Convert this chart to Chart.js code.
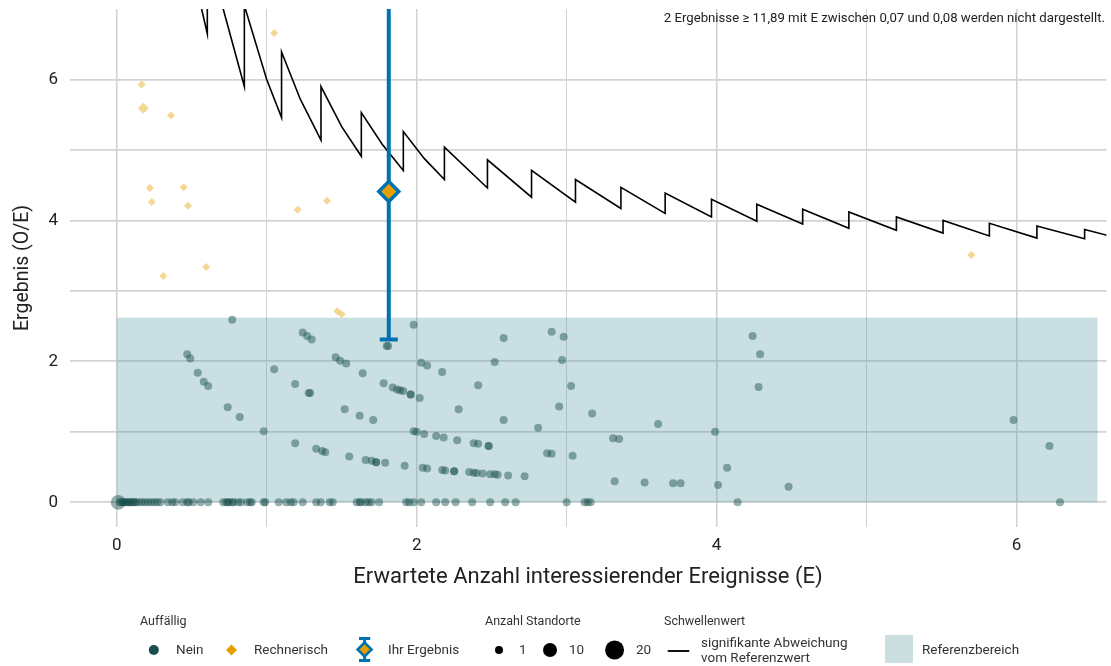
<!DOCTYPE html>
<html>
<head>
<meta charset="utf-8">
<script src="https://cdn.jsdelivr.net/npm/chart.js@4.4.0/dist/chart.umd.min.js"></script>
<style>
  html, body { margin: 0; padding: 0; background: #fff; }
  #wrap { position: relative; width: 1111px; height: 666px; font-family: Roboto, 'Noto Sans', sans-serif; color: #333; }
  #chart { position: absolute; left: 0; top: 0; }
  #legendSvg { position: absolute; left: 0; top: 0; pointer-events: none; }
  .t { position: absolute; white-space: nowrap; line-height: 1; }
  .ttl { font-size: 12.5px; color: #333; }
  .lab { font-size: 13.5px; color: #333; }
  #note { position: absolute; right: 6px; top: 11px; font-size: 13.2px; color: #222; white-space: nowrap; line-height: 1; }
</style>
</head>
<body>
<div id="wrap">
  <canvas id="chart" width="1111" height="666"></canvas>
  <div id="note">2 Ergebnisse ≥ 11,89 mit E zwischen 0,07 und 0,08 werden nicht dargestellt.</div>

  <svg id="legendSvg" width="1111" height="666">
    <circle cx="153.8" cy="650" r="5" fill="#164e4c"/>
    <polygon points="226,650 231.5,644.5 237,650 231.5,655.5" fill="#e69f00"/>
    <line x1="364.6" y1="638" x2="364.6" y2="661" stroke="#0072b2" stroke-width="3"/>
    <line x1="359" y1="638.5" x2="370.2" y2="638.5" stroke="#0072b2" stroke-width="3"/>
    <line x1="359" y1="660.5" x2="370.2" y2="660.5" stroke="#0072b2" stroke-width="3"/>
    <polygon points="357.6,649.5 364.6,642.5 371.6,649.5 364.6,656.5" fill="#e69f00" stroke="#0072b2" stroke-width="2.5"/>
    <circle cx="499" cy="650" r="4" fill="#000"/>
    <circle cx="550" cy="650" r="7" fill="#000"/>
    <circle cx="614.6" cy="650" r="9.5" fill="#000"/>
    <line x1="667.7" y1="651" x2="689.3" y2="651" stroke="#111" stroke-width="2"/>
    <rect x="885" y="635" width="28" height="28" fill="#cbdfe1"/>
  </svg>

  <div class="t ttl" style="left:140px;top:615px;">Auffällig</div>
  <div class="t lab" style="left:176px;top:643px;">Nein</div>
  <div class="t lab" style="left:254px;top:643px;">Rechnerisch</div>
  <div class="t lab" style="left:388px;top:643px;">Ihr Ergebnis</div>

  <div class="t ttl" style="left:485px;top:615px;">Anzahl Standorte</div>
  <div class="t lab" style="left:519px;top:643px;">1</div>
  <div class="t lab" style="left:569px;top:643px;">10</div>
  <div class="t lab" style="left:636px;top:643px;">20</div>

  <div class="t ttl" style="left:664px;top:615px;">Schwellenwert</div>
  <div class="t lab" style="left:701px;top:636px;">signifikante Abweichung</div>
  <div class="t lab" style="left:701px;top:651px;">vom Referenzwert</div>

  <div class="t lab" style="left:922px;top:643px;">Referenzbereich</div>
</div>

<script>
// Funnel plot: O/E gegen erwartete Anzahl E

// Auffaellig: Nein (E, O/E, Anzahl Standorte)
const neinE = [
  0.01, 0.02, 0.03, 0.04, 0.05, 0.06, 0.07, 0.08, 0.09, 0.10, 0.11, 0.12, 0.13, 0.15, 0.17, 0.19, 0.21, 0.23, 0.25, 0.27, 0.29,
  0.34, 0.37, 0.39, 0.44, 0.47, 0.48, 0.51, 0.56, 0.61,
  0.71, 0.73, 0.74, 0.75, 0.77, 0.78, 0.81, 0.83, 0.87, 0.89, 0.90,
  0.98, 0.99, 1.08, 1.13, 1.16, 1.18, 1.24,
  1.33, 1.36, 1.42, 1.44, 1.60, 1.62, 1.63, 1.66, 1.68, 1.70, 1.75,
  1.93, 1.95, 1.98, 2.03, 2.13, 2.19, 2.26, 2.37, 2.49, 2.59, 2.66, 3.00, 3.12, 3.14, 3.16, 4.14, 6.29,
  0.77, 0.47, 0.49, 0.54, 0.58, 0.61, 0.74, 0.82, 0.98, 1.05, 1.19, 1.19, 1.24, 1.27, 1.30, 1.28, 1.29,
  1.33, 1.37, 1.39, 1.46, 1.49, 1.53, 1.52, 1.55, 1.62, 1.64, 1.66, 1.70, 1.71, 1.73, 1.73, 1.78, 1.79,
  1.80, 1.81, 1.84, 1.87, 1.89, 1.91, 1.92, 1.96, 1.96, 1.98, 1.98, 2.00, 2.02, 2.03, 2.04, 2.05, 2.07,
  2.07, 2.13, 2.17, 2.17, 2.18, 2.19, 2.25, 2.25, 2.27, 2.28, 2.35, 2.38, 2.38, 2.40, 2.41, 2.41, 2.44,
  2.48, 2.48, 2.49, 2.52, 2.52, 2.54, 2.58, 2.58, 2.61, 2.72, 2.81, 2.87, 2.90, 2.90, 2.95, 2.97, 2.98,
  3.03, 3.04, 3.17, 3.31, 3.32, 3.35, 3.52, 3.61, 3.71, 3.76, 3.99, 4.01, 4.07, 4.24, 4.28, 4.29, 4.48,
  5.98, 6.22
];
const neinOE = [
  0, 0, 0, 0, 0, 0, 0, 0, 0, 0, 0, 0, 0, 0, 0, 0, 0, 0, 0, 0, 0,
  0, 0, 0, 0, 0, 0, 0, 0, 0,
  0, 0, 0, 0, 0, 0, 0, 0, 0, 0, 0,
  0, 0, 0, 0, 0, 0, 0,
  0, 0, 0, 0, 0, 0, 0, 0, 0, 0, 0,
  0, 0, 0, 0, 0, 0, 0, 0, 0, 0, 0, 0, 0, 0, 0, 0, 0,
  2.59, 2.10, 2.04, 1.84, 1.71, 1.65, 1.35, 1.21, 1.01, 1.89, 1.68, 0.84, 2.41, 2.36, 2.31, 1.55, 1.55,
  0.76, 0.73, 0.71, 2.06, 2.01, 1.97, 1.32, 0.65, 1.23, 1.83, 0.60, 0.59, 1.17, 0.57, 0.57, 1.69, 0.56,
  2.22, 2.22, 1.63, 1.60, 1.59, 1.58, 0.52, 1.53, 1.53, 2.52, 1.01, 1.00, 1.48, 1.98, 0.49, 0.97, 1.94,
  0.48, 0.94, 1.85, 0.46, 0.92, 0.45, 0.44, 0.44, 0.88, 1.32, 0.43, 0.42, 0.84, 0.415, 0.83, 1.66, 0.41,
  0.80, 0.80, 0.40, 0.40, 1.99, 0.39, 2.33, 1.17, 0.38, 0.37, 1.06, 0.695, 0.69, 2.42, 1.36, 2.02, 2.35,
  1.65, 0.66, 1.26, 0.91, 0.30, 0.90, 0.28, 1.11, 0.27, 0.27, 1.00, 0.245, 0.49, 2.36, 1.635, 2.10, 0.22,
  1.17, 0.80
];
const neinN = neinE.map((e, i) => i === 0 ? 10 : 1);

// Auffaellig: Rechnerisch
const rechE  = [1.05, 0.166, 0.177, 0.362, 0.221, 0.446, 0.233, 0.475, 1.207, 1.402, 0.310, 0.597, 1.471, 1.500, 5.698];
const rechOE = [6.66, 5.93, 5.59, 5.49, 4.46, 4.47, 4.26, 4.21, 4.15, 4.28, 3.21, 3.34, 2.71, 2.67, 3.51];
const rechN  = [1, 1, 2, 1, 1, 1, 1, 1, 1, 1, 1, 1, 1, 1, 1];

// Ihr Ergebnis mit Vertrauensbereich
const ihrE = 1.814;
const ihrOE = 4.41;
const ihrLower = 2.31;
const ihrUpper = 7.6;
const capHalf = 0.06;

// Schwellenwert (Kontrollgrenze), Eckpunkte
const thrE  = [0.566, 0.604, 0.604, 0.710, 0.851, 0.851, 1.000, 1.099, 1.099, 1.224, 1.362, 1.362, 1.500, 1.631, 1.631, 1.770,
               1.911, 1.911, 2.050, 2.185, 2.185, 2.472, 2.472, 2.766, 2.766, 3.059, 3.059, 3.362, 3.362, 3.657, 3.657,
               3.966, 3.966, 4.268, 4.268, 4.574, 4.574, 4.882, 4.882, 5.199, 5.199, 5.510, 5.510, 5.819, 5.819,
               6.136, 6.136, 6.454, 6.454, 6.604];
const thrOE = [7.00, 6.65, 8.30, 7.00, 5.90, 7.05, 6.00, 5.46, 6.39, 5.72, 5.14, 5.90, 5.33, 4.91, 5.53, 5.08,
               4.71, 5.26, 4.88, 4.58, 5.04, 4.46, 4.86, 4.33, 4.71, 4.26, 4.58, 4.17, 4.47, 4.10, 4.39,
               4.05, 4.30, 3.99, 4.23, 3.95, 4.16, 3.89, 4.12, 3.86, 4.05, 3.82, 4.00, 3.78, 3.96,
               3.75, 3.92, 3.74, 3.87, 3.79];

// Referenzbereich
const refE  = [0, 6.54];
const refOE = [0, 2.62];

// Achsen
const xGrid = [0, 1, 2, 3, 4, 5, 6];
const yGrid = [0, 1, 2, 3, 4, 5, 6];

const TEAL = '#164e4c';
const ORANGE = '#e69f00';
const BLUE = '#0072b2';

function sizeToRadius(n){ return Math.sqrt(16 + 4.4 * (n - 1)); }

// no label overhang padding: chart area set only by layout.padding
function noPad(s){ s.paddingTop = 0; s.paddingBottom = 0; s.paddingLeft = 0; s.paddingRight = 0; }

const refAreaPlugin = {
  id: 'refArea',
  beforeDatasetsDraw(chart){
    const { ctx, scales: { x, y } } = chart;
    const x0 = x.getPixelForValue(refE[0]), x1 = x.getPixelForValue(refE[1]);
    const y0 = y.getPixelForValue(refOE[0]), y1 = y.getPixelForValue(refOE[1]);
    ctx.save();
    ctx.fillStyle = 'rgba(80,150,160,0.30)';
    ctx.fillRect(x0, y1, x1 - x0, y0 - y1);
    ctx.restore();
  }
};

Chart.defaults.font.family = 'Roboto, "Noto Sans", sans-serif';
Chart.defaults.color = '#222';

new Chart(document.getElementById('chart'), {
  type: 'scatter',
  data: {
    datasets: [
      {
        label: 'Ihr Ergebnis',
        data: [{ x: ihrE, y: ihrOE }],
        pointStyle: 'rectRot',
        pointRadius: 10,
        backgroundColor: ORANGE,
        borderColor: BLUE,
        borderWidth: 3.5,
        order: 0
      },
      {
        label: 'Vertrauensbereich',
        type: 'line',
        data: [{ x: ihrE, y: ihrLower }, { x: ihrE, y: ihrUpper }],
        borderColor: BLUE,
        borderWidth: 4,
        pointRadius: 0,
        order: 1
      },
      {
        label: 'Kappe',
        type: 'line',
        data: [{ x: ihrE - capHalf, y: ihrLower }, { x: ihrE + capHalf, y: ihrLower }],
        borderColor: BLUE,
        borderWidth: 4,
        pointRadius: 0,
        order: 1
      },
      {
        label: 'Schwellenwert',
        type: 'line',
        data: thrE.map((e, i) => ({ x: e, y: thrOE[i] })),
        borderColor: '#000',
        borderWidth: 1.6,
        pointRadius: 0,
        tension: 0,
        order: 2
      },
      {
        label: 'Rechnerisch',
        data: rechE.map((e, i) => ({ x: e, y: rechOE[i] })),
        pointStyle: 'rectRot',
        pointRadius: rechN.map(n => n > 1 ? 5.5 : 4),
        backgroundColor: 'rgba(230,159,0,0.42)',
        borderWidth: 0,
        order: 3
      },
      {
        label: 'Nein',
        data: neinE.map((e, i) => ({ x: e, y: neinOE[i] })),
        pointRadius: neinN.map(sizeToRadius),
        backgroundColor: 'rgba(22,78,76,0.45)',
        borderWidth: 0,
        order: 4
      }
    ]
  },
  options: {
    responsive: false,
    animation: false,
    devicePixelRatio: 1,
    layout: { autoPadding: false, padding: { top: 9, right: 4.5, bottom: 72, left: 0 } },
    plugins: {
      legend: { display: false },
      tooltip: { enabled: false }
    },
    scales: {
      x: {
        type: 'linear',
        min: -0.315, max: 6.6,
        afterBuildTicks: s => { s.ticks = xGrid.map(v => ({ value: v })); },
        afterFit: s => { s.height = 67; noPad(s); },
        ticks: {
          callback: v => (v % 2 === 0 ? String(v) : ''),
          font: { size: 17 }, color: '#222', padding: 9, maxRotation: 0, autoSkip: false
        },
        grid: {
          color: '#d3d3d3',
          lineWidth: c => (c.tick && c.tick.value % 2 === 0 ? 1.6 : 1),
          drawTicks: false
        },
        border: { display: false },
        title: {
          display: true,
          text: 'Erwartete Anzahl interessierender Ereignisse (E)',
          font: { size: 22 }, color: '#222',
          padding: { top: 3, bottom: 3 }
        }
      },
      y: {
        type: 'linear',
        min: -0.35, max: 7.0,
        afterBuildTicks: s => { s.ticks = yGrid.map(v => ({ value: v })); },
        afterFit: s => { s.width = 69.5; noPad(s); },
        ticks: {
          callback: v => (v % 2 === 0 ? String(v) : ''),
          font: { size: 17 }, color: '#222', padding: 11.5
        },
        grid: {
          color: '#d3d3d3',
          lineWidth: 1.8,
          drawTicks: false
        },
        border: { display: false },
        title: {
          display: true,
          text: 'Ergebnis (O/E)',
          font: { size: 19.5 }, color: '#222',
          padding: { top: 11, bottom: 0 }
        }
      }
    }
  },
  plugins: [refAreaPlugin]
});
</script>
</body>
</html>
